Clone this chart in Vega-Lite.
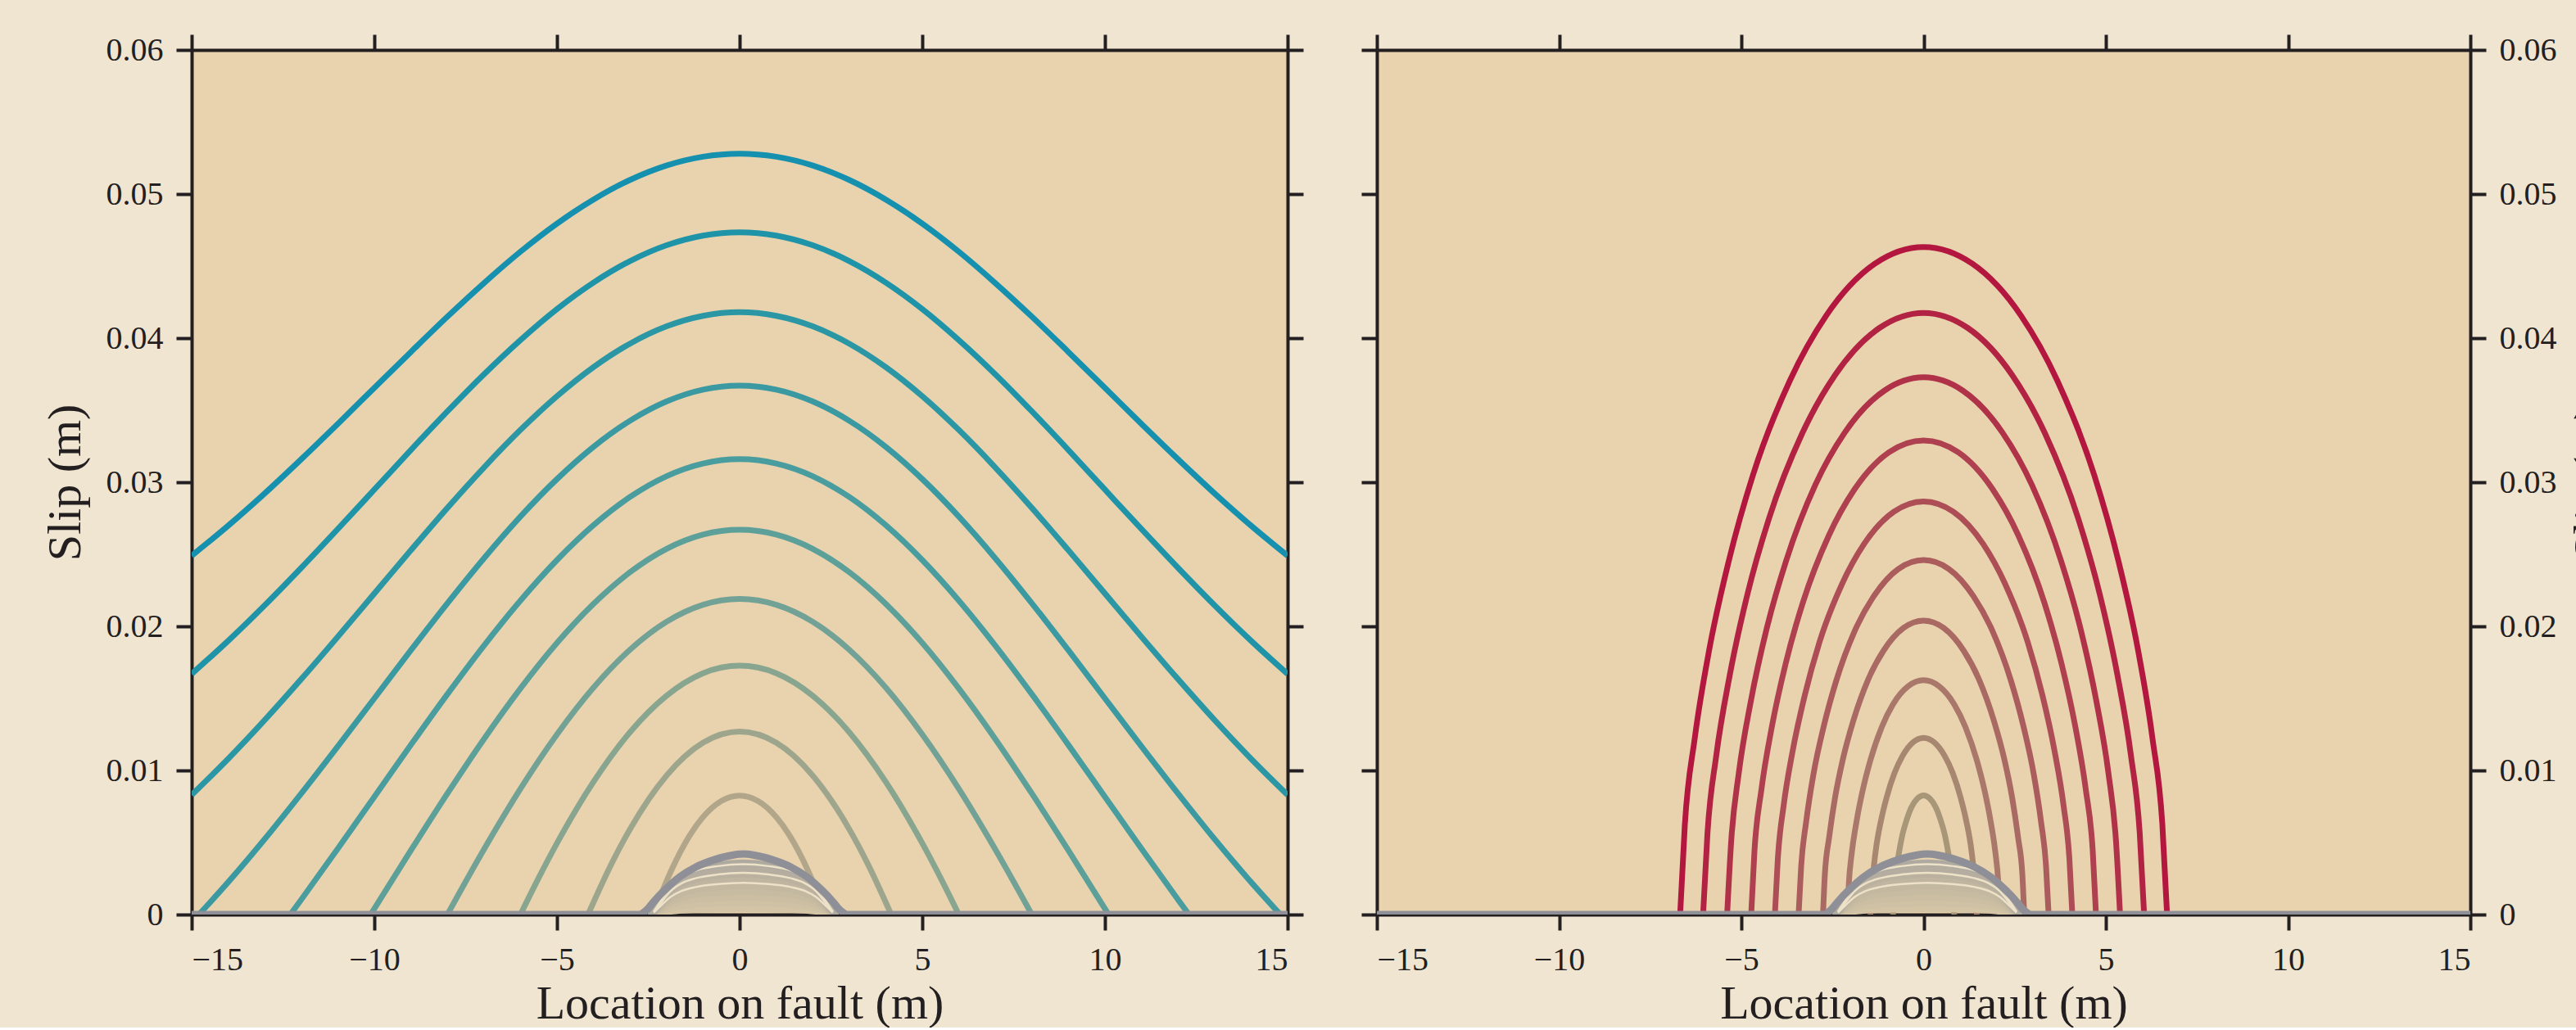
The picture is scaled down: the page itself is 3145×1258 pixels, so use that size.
{
 "$schema": "https://vega.github.io/schema/vega-lite/v6.json",
 "background": "#F0E5D0",
 "padding": {"left": 51, "top": 40, "right": 0, "bottom": 0},
 "spacing": 109,
 "bounds": "flush",
 "config": {
  "view": {"fill": "#E8D3AE", "stroke": null},
  "axis": {"domainColor": "#231F20", "domainWidth": 4, "tickColor": "#231F20", "tickWidth": 4, "tickSize": 19, "grid": false,
   "labelFont": "Liberation Serif", "labelFontSize": 40, "labelColor": "#231F20", "labelPadding": 16,
   "titleFont": "Liberation Serif", "titleFontSize": 58, "titleFontWeight": "normal", "titleColor": "#231F20", "zindex": 1}
 },
 "datasets": {
  "leftMain": [
   {"s":"c01","x":-15,"y":0.0249},{"s":"c01","x":-14,"y":0.02699},{"s":"c01","x":-13,"y":0.02923},{"s":"c01","x":-12,"y":0.0316},{"s":"c01","x":-11,"y":0.03405},{"s":"c01","x":-10,"y":0.03655},{"s":"c01","x":-9,"y":0.03904},{"s":"c01","x":-8,"y":0.04149},{"s":"c01","x":-7,"y":0.04382},{"s":"c01","x":-6,"y":0.046},{"s":"c01","x":-5,"y":0.04795},{"s":"c01","x":-4,"y":0.04962},{"s":"c01","x":-3,"y":0.05098},{"s":"c01","x":-2,"y":0.05198},{"s":"c01","x":-1,"y":0.05259},{"s":"c01","x":0,"y":0.0528},{"s":"c01","x":1,"y":0.05259},{"s":"c01","x":2,"y":0.05198},{"s":"c01","x":3,"y":0.05098},{"s":"c01","x":4,"y":0.04962},{"s":"c01","x":5,"y":0.04795},{"s":"c01","x":6,"y":0.046},{"s":"c01","x":7,"y":0.04382},{"s":"c01","x":8,"y":0.04149},{"s":"c01","x":9,"y":0.03904},{"s":"c01","x":10,"y":0.03655},{"s":"c01","x":11,"y":0.03405},{"s":"c01","x":12,"y":0.0316},{"s":"c01","x":13,"y":0.02923},{"s":"c01","x":14,"y":0.02699},{"s":"c01","x":15,"y":0.0249},
   {"s":"c02","x":-15,"y":0.0167},{"s":"c02","x":-14,"y":0.019},{"s":"c02","x":-13,"y":0.02146},{"s":"c02","x":-12,"y":0.02406},{"s":"c02","x":-11,"y":0.02675},{"s":"c02","x":-10,"y":0.02949},{"s":"c02","x":-9,"y":0.03224},{"s":"c02","x":-8,"y":0.03492},{"s":"c02","x":-7,"y":0.03749},{"s":"c02","x":-6,"y":0.03987},{"s":"c02","x":-5,"y":0.04202},{"s":"c02","x":-4,"y":0.04386},{"s":"c02","x":-3,"y":0.04535},{"s":"c02","x":-2,"y":0.04645},{"s":"c02","x":-1,"y":0.04712},{"s":"c02","x":0,"y":0.04735},{"s":"c02","x":1,"y":0.04712},{"s":"c02","x":2,"y":0.04645},{"s":"c02","x":3,"y":0.04535},{"s":"c02","x":4,"y":0.04386},{"s":"c02","x":5,"y":0.04202},{"s":"c02","x":6,"y":0.03987},{"s":"c02","x":7,"y":0.03749},{"s":"c02","x":8,"y":0.03492},{"s":"c02","x":9,"y":0.03224},{"s":"c02","x":10,"y":0.02949},{"s":"c02","x":11,"y":0.02675},{"s":"c02","x":12,"y":0.02406},{"s":"c02","x":13,"y":0.02146},{"s":"c02","x":14,"y":0.019},{"s":"c02","x":15,"y":0.0167},
   {"s":"c03","x":-15,"y":0.0083},{"s":"c03","x":-14,"y":0.01081},{"s":"c03","x":-13,"y":0.0135},{"s":"c03","x":-12,"y":0.01634},{"s":"c03","x":-11,"y":0.01928},{"s":"c03","x":-10,"y":0.02228},{"s":"c03","x":-9,"y":0.02528},{"s":"c03","x":-8,"y":0.02822},{"s":"c03","x":-7,"y":0.03102},{"s":"c03","x":-6,"y":0.03363},{"s":"c03","x":-5,"y":0.03597},{"s":"c03","x":-4,"y":0.03799},{"s":"c03","x":-3,"y":0.03962},{"s":"c03","x":-2,"y":0.04082},{"s":"c03","x":-1,"y":0.04155},{"s":"c03","x":0,"y":0.0418},{"s":"c03","x":1,"y":0.04155},{"s":"c03","x":2,"y":0.04082},{"s":"c03","x":3,"y":0.03962},{"s":"c03","x":4,"y":0.03799},{"s":"c03","x":5,"y":0.03597},{"s":"c03","x":6,"y":0.03363},{"s":"c03","x":7,"y":0.03102},{"s":"c03","x":8,"y":0.02822},{"s":"c03","x":9,"y":0.02528},{"s":"c03","x":10,"y":0.02228},{"s":"c03","x":11,"y":0.01928},{"s":"c03","x":12,"y":0.01634},{"s":"c03","x":13,"y":0.0135},{"s":"c03","x":14,"y":0.01081},{"s":"c03","x":15,"y":0.0083},
   {"s":"c04","x":-14.8,"y":0},{"s":"c04","x":-14,"y":0.00225},{"s":"c04","x":-13,"y":0.00524},{"s":"c04","x":-12,"y":0.0084},{"s":"c04","x":-11,"y":0.01167},{"s":"c04","x":-10,"y":0.015},{"s":"c04","x":-9,"y":0.01834},{"s":"c04","x":-8,"y":0.0216},{"s":"c04","x":-7,"y":0.02472},{"s":"c04","x":-6,"y":0.02762},{"s":"c04","x":-5,"y":0.03022},{"s":"c04","x":-4,"y":0.03246},{"s":"c04","x":-3,"y":0.03427},{"s":"c04","x":-2,"y":0.03561},{"s":"c04","x":-1,"y":0.03643},{"s":"c04","x":0,"y":0.0367},{"s":"c04","x":1,"y":0.03643},{"s":"c04","x":2,"y":0.03561},{"s":"c04","x":3,"y":0.03427},{"s":"c04","x":4,"y":0.03246},{"s":"c04","x":5,"y":0.03022},{"s":"c04","x":6,"y":0.02762},{"s":"c04","x":7,"y":0.02472},{"s":"c04","x":8,"y":0.0216},{"s":"c04","x":9,"y":0.01834},{"s":"c04","x":10,"y":0.015},{"s":"c04","x":11,"y":0.01167},{"s":"c04","x":12,"y":0.0084},{"s":"c04","x":13,"y":0.00524},{"s":"c04","x":14,"y":0.00225},{"s":"c04","x":14.8,"y":0},
   {"s":"c05","x":-12.3,"y":0},{"s":"c05","x":-12,"y":0.00104},{"s":"c05","x":-11,"y":0.00457},{"s":"c05","x":-10,"y":0.00817},{"s":"c05","x":-9,"y":0.01177},{"s":"c05","x":-8,"y":0.01529},{"s":"c05","x":-7,"y":0.01866},{"s":"c05","x":-6,"y":0.02179},{"s":"c05","x":-5,"y":0.0246},{"s":"c05","x":-4,"y":0.02702},{"s":"c05","x":-3,"y":0.02898},{"s":"c05","x":-2,"y":0.03042},{"s":"c05","x":-1,"y":0.0313},{"s":"c05","x":0,"y":0.0316},{"s":"c05","x":1,"y":0.0313},{"s":"c05","x":2,"y":0.03042},{"s":"c05","x":3,"y":0.02898},{"s":"c05","x":4,"y":0.02702},{"s":"c05","x":5,"y":0.0246},{"s":"c05","x":6,"y":0.02179},{"s":"c05","x":7,"y":0.01866},{"s":"c05","x":8,"y":0.01529},{"s":"c05","x":9,"y":0.01177},{"s":"c05","x":10,"y":0.00817},{"s":"c05","x":11,"y":0.00457},{"s":"c05","x":12,"y":0.00104},{"s":"c05","x":12.3,"y":0},
   {"s":"c06","x":-10.1,"y":0},{"s":"c06","x":-9,"y":0.00445},{"s":"c06","x":-8,"y":0.0084},{"s":"c06","x":-7,"y":0.01218},{"s":"c06","x":-6,"y":0.01569},{"s":"c06","x":-5,"y":0.01885},{"s":"c06","x":-4,"y":0.02156},{"s":"c06","x":-3,"y":0.02376},{"s":"c06","x":-2,"y":0.02538},{"s":"c06","x":-1,"y":0.02637},{"s":"c06","x":0,"y":0.0267},{"s":"c06","x":1,"y":0.02637},{"s":"c06","x":2,"y":0.02538},{"s":"c06","x":3,"y":0.02376},{"s":"c06","x":4,"y":0.02156},{"s":"c06","x":5,"y":0.01885},{"s":"c06","x":6,"y":0.01569},{"s":"c06","x":7,"y":0.01218},{"s":"c06","x":8,"y":0.0084},{"s":"c06","x":9,"y":0.00445},{"s":"c06","x":10.1,"y":0},
   {"s":"c07","x":-8,"y":0},{"s":"c07","x":-7,"y":0.00452},{"s":"c07","x":-6,"y":0.00873},{"s":"c07","x":-5,"y":0.0125},{"s":"c07","x":-4,"y":0.01575},{"s":"c07","x":-3,"y":0.01838},{"s":"c07","x":-2,"y":0.02032},{"s":"c07","x":-1,"y":0.0215},{"s":"c07","x":0,"y":0.0219},{"s":"c07","x":1,"y":0.0215},{"s":"c07","x":2,"y":0.02032},{"s":"c07","x":3,"y":0.01838},{"s":"c07","x":4,"y":0.01575},{"s":"c07","x":5,"y":0.0125},{"s":"c07","x":6,"y":0.00873},{"s":"c07","x":7,"y":0.00452},{"s":"c07","x":8,"y":0},
   {"s":"c08","x":-6,"y":0},{"s":"c08","x":-5.5,"y":0.00255},{"s":"c08","x":-5,"y":0.00495},{"s":"c08","x":-4,"y":0.00921},{"s":"c08","x":-3,"y":0.01266},{"s":"c08","x":-2,"y":0.01519},{"s":"c08","x":-1,"y":0.01675},{"s":"c08","x":0,"y":0.01727},{"s":"c08","x":1,"y":0.01675},{"s":"c08","x":2,"y":0.01519},{"s":"c08","x":3,"y":0.01266},{"s":"c08","x":4,"y":0.00921},{"s":"c08","x":5,"y":0.00495},{"s":"c08","x":5.5,"y":0.00255},{"s":"c08","x":6,"y":0},
   {"s":"c09","x":-4.15,"y":0},{"s":"c09","x":-3.5,"y":0.00356},{"s":"c09","x":-3,"y":0.00593},{"s":"c09","x":-2,"y":0.00965},{"s":"c09","x":-1,"y":0.01193},{"s":"c09","x":0,"y":0.0127},{"s":"c09","x":1,"y":0.01193},{"s":"c09","x":2,"y":0.00965},{"s":"c09","x":3,"y":0.00593},{"s":"c09","x":3.5,"y":0.00356},{"s":"c09","x":4.15,"y":0},
   {"s":"c10","x":-2.36,"y":0},{"s":"c10","x":-2,"y":0.00232},{"s":"c10","x":-1.5,"y":0.00492},{"s":"c10","x":-1,"y":0.00677},{"s":"c10","x":-0.5,"y":0.00788},{"s":"c10","x":0,"y":0.00825},{"s":"c10","x":0.5,"y":0.00788},{"s":"c10","x":1,"y":0.00677},{"s":"c10","x":1.5,"y":0.00492},{"s":"c10","x":2,"y":0.00232},{"s":"c10","x":2.36,"y":0}
  ],
  "rightMain": [
   {"s":"r01","x":-6.68,"y":0},{"s":"r01","x":-6.55,"y":0.00626},{"s":"r01","x":-6.28,"y":0.01221},{"s":"r01","x":-5.88,"y":0.0184},{"s":"r01","x":-5.34,"y":0.02459},{"s":"r01","x":-4.68,"y":0.03051},{"s":"r01","x":-3.67,"y":0.03705},{"s":"r01","x":-2.67,"y":0.04157},{"s":"r01","x":-1.34,"y":0.04516},{"s":"r01","x":0,"y":0.04632},{"s":"r01","x":1.34,"y":0.04516},{"s":"r01","x":2.67,"y":0.04157},{"s":"r01","x":3.67,"y":0.03705},{"s":"r01","x":4.68,"y":0.03051},{"s":"r01","x":5.34,"y":0.02459},{"s":"r01","x":5.88,"y":0.0184},{"s":"r01","x":6.28,"y":0.01221},{"s":"r01","x":6.55,"y":0.00626},{"s":"r01","x":6.68,"y":0},
   {"s":"r02","x":-6.05,"y":0},{"s":"r02","x":-5.93,"y":0.00564},{"s":"r02","x":-5.69,"y":0.01101},{"s":"r02","x":-5.32,"y":0.01659},{"s":"r02","x":-4.84,"y":0.02216},{"s":"r02","x":-4.24,"y":0.0275},{"s":"r02","x":-3.33,"y":0.03339},{"s":"r02","x":-2.42,"y":0.03747},{"s":"r02","x":-1.21,"y":0.04071},{"s":"r02","x":0,"y":0.04175},{"s":"r02","x":1.21,"y":0.04071},{"s":"r02","x":2.42,"y":0.03747},{"s":"r02","x":3.33,"y":0.03339},{"s":"r02","x":4.24,"y":0.0275},{"s":"r02","x":4.84,"y":0.02216},{"s":"r02","x":5.32,"y":0.01659},{"s":"r02","x":5.69,"y":0.01101},{"s":"r02","x":5.93,"y":0.00564},{"s":"r02","x":6.05,"y":0},
   {"s":"r03","x":-5.39,"y":0},{"s":"r03","x":-5.28,"y":0.00504},{"s":"r03","x":-5.07,"y":0.00983},{"s":"r03","x":-4.74,"y":0.01481},{"s":"r03","x":-4.31,"y":0.01979},{"s":"r03","x":-3.77,"y":0.02456},{"s":"r03","x":-2.97,"y":0.02982},{"s":"r03","x":-2.16,"y":0.03346},{"s":"r03","x":-1.08,"y":0.03635},{"s":"r03","x":0,"y":0.03728},{"s":"r03","x":1.08,"y":0.03635},{"s":"r03","x":2.16,"y":0.03346},{"s":"r03","x":2.97,"y":0.02982},{"s":"r03","x":3.77,"y":0.02456},{"s":"r03","x":4.31,"y":0.01979},{"s":"r03","x":4.74,"y":0.01481},{"s":"r03","x":5.07,"y":0.00983},{"s":"r03","x":5.28,"y":0.00504},{"s":"r03","x":5.39,"y":0},
   {"s":"r04","x":-4.73,"y":0},{"s":"r04","x":-4.64,"y":0.00444},{"s":"r04","x":-4.45,"y":0.00867},{"s":"r04","x":-4.16,"y":0.01307},{"s":"r04","x":-3.78,"y":0.01746},{"s":"r04","x":-3.31,"y":0.02167},{"s":"r04","x":-2.6,"y":0.02631},{"s":"r04","x":-1.89,"y":0.02953},{"s":"r04","x":-0.95,"y":0.03208},{"s":"r04","x":0,"y":0.0329},{"s":"r04","x":0.95,"y":0.03208},{"s":"r04","x":1.89,"y":0.02953},{"s":"r04","x":2.6,"y":0.02631},{"s":"r04","x":3.31,"y":0.02167},{"s":"r04","x":3.78,"y":0.01746},{"s":"r04","x":4.16,"y":0.01307},{"s":"r04","x":4.45,"y":0.00867},{"s":"r04","x":4.64,"y":0.00444},{"s":"r04","x":4.73,"y":0},
   {"s":"r05","x":-4.08,"y":0},{"s":"r05","x":-4.0,"y":0.00387},{"s":"r05","x":-3.84,"y":0.00756},{"s":"r05","x":-3.59,"y":0.01139},{"s":"r05","x":-3.26,"y":0.01522},{"s":"r05","x":-2.86,"y":0.01888},{"s":"r05","x":-2.24,"y":0.02293},{"s":"r05","x":-1.63,"y":0.02573},{"s":"r05","x":-0.82,"y":0.02795},{"s":"r05","x":0,"y":0.02867},{"s":"r05","x":0.82,"y":0.02795},{"s":"r05","x":1.63,"y":0.02573},{"s":"r05","x":2.24,"y":0.02293},{"s":"r05","x":2.86,"y":0.01888},{"s":"r05","x":3.26,"y":0.01522},{"s":"r05","x":3.59,"y":0.01139},{"s":"r05","x":3.84,"y":0.00756},{"s":"r05","x":4.0,"y":0.00387},{"s":"r05","x":4.08,"y":0},
   {"s":"r06","x":-3.43,"y":0},{"s":"r06","x":-3.36,"y":0.00332},{"s":"r06","x":-3.22,"y":0.00648},{"s":"r06","x":-3.02,"y":0.00977},{"s":"r06","x":-2.74,"y":0.01306},{"s":"r06","x":-2.4,"y":0.0162},{"s":"r06","x":-1.89,"y":0.01968},{"s":"r06","x":-1.37,"y":0.02208},{"s":"r06","x":-0.69,"y":0.02399},{"s":"r06","x":0,"y":0.0246},{"s":"r06","x":0.69,"y":0.02399},{"s":"r06","x":1.37,"y":0.02208},{"s":"r06","x":1.89,"y":0.01968},{"s":"r06","x":2.4,"y":0.0162},{"s":"r06","x":2.74,"y":0.01306},{"s":"r06","x":3.02,"y":0.00977},{"s":"r06","x":3.22,"y":0.00648},{"s":"r06","x":3.36,"y":0.00332},{"s":"r06","x":3.43,"y":0},
   {"s":"r07","x":-2.76,"y":0},{"s":"r07","x":-2.71,"y":0.00276},{"s":"r07","x":-2.59,"y":0.00538},{"s":"r07","x":-2.43,"y":0.0081},{"s":"r07","x":-2.21,"y":0.01083},{"s":"r07","x":-1.93,"y":0.01344},{"s":"r07","x":-1.52,"y":0.01632},{"s":"r07","x":-1.1,"y":0.01831},{"s":"r07","x":-0.55,"y":0.01989},{"s":"r07","x":0,"y":0.0204},{"s":"r07","x":0.55,"y":0.01989},{"s":"r07","x":1.1,"y":0.01831},{"s":"r07","x":1.52,"y":0.01632},{"s":"r07","x":1.93,"y":0.01344},{"s":"r07","x":2.21,"y":0.01083},{"s":"r07","x":2.43,"y":0.0081},{"s":"r07","x":2.59,"y":0.00538},{"s":"r07","x":2.71,"y":0.00276},{"s":"r07","x":2.76,"y":0},
   {"s":"r08","x":-2.09,"y":0},{"s":"r08","x":-2.05,"y":0.0022},{"s":"r08","x":-1.97,"y":0.00429},{"s":"r08","x":-1.84,"y":0.00646},{"s":"r08","x":-1.67,"y":0.00863},{"s":"r08","x":-1.46,"y":0.01071},{"s":"r08","x":-1.15,"y":0.013},{"s":"r08","x":-0.84,"y":0.01459},{"s":"r08","x":-0.42,"y":0.01585},{"s":"r08","x":0,"y":0.01626},{"s":"r08","x":0.42,"y":0.01585},{"s":"r08","x":0.84,"y":0.01459},{"s":"r08","x":1.15,"y":0.013},{"s":"r08","x":1.46,"y":0.01071},{"s":"r08","x":1.67,"y":0.00863},{"s":"r08","x":1.84,"y":0.00646},{"s":"r08","x":1.97,"y":0.00429},{"s":"r08","x":2.05,"y":0.0022},{"s":"r08","x":2.09,"y":0},
   {"s":"r09","x":-1.46,"y":0},{"s":"r09","x":-1.43,"y":0.00166},{"s":"r09","x":-1.37,"y":0.00323},{"s":"r09","x":-1.29,"y":0.00487},{"s":"r09","x":-1.17,"y":0.00651},{"s":"r09","x":-1.02,"y":0.00808},{"s":"r09","x":-0.8,"y":0.00981},{"s":"r09","x":-0.58,"y":0.011},{"s":"r09","x":-0.29,"y":0.01195},{"s":"r09","x":0,"y":0.01226},{"s":"r09","x":0.29,"y":0.01195},{"s":"r09","x":0.58,"y":0.011},{"s":"r09","x":0.8,"y":0.00981},{"s":"r09","x":1.02,"y":0.00808},{"s":"r09","x":1.17,"y":0.00651},{"s":"r09","x":1.29,"y":0.00487},{"s":"r09","x":1.37,"y":0.00323},{"s":"r09","x":1.43,"y":0.00166},{"s":"r09","x":1.46,"y":0},
   {"s":"r10","x":-0.84,"y":0},{"s":"r10","x":-0.82,"y":0.00112},{"s":"r10","x":-0.79,"y":0.00218},{"s":"r10","x":-0.74,"y":0.00328},{"s":"r10","x":-0.67,"y":0.00438},{"s":"r10","x":-0.59,"y":0.00544},{"s":"r10","x":-0.46,"y":0.00661},{"s":"r10","x":-0.34,"y":0.00741},{"s":"r10","x":-0.17,"y":0.00805},{"s":"r10","x":0,"y":0.00826},{"s":"r10","x":0.17,"y":0.00805},{"s":"r10","x":0.34,"y":0.00741},{"s":"r10","x":0.46,"y":0.00661},{"s":"r10","x":0.59,"y":0.00544},{"s":"r10","x":0.67,"y":0.00438},{"s":"r10","x":0.74,"y":0.00328},{"s":"r10","x":0.79,"y":0.00218},{"s":"r10","x":0.82,"y":0.00112},{"s":"r10","x":0.84,"y":0}
  ],
  "bumpDark": [
   {"s":"d1","x":-2.5,"y":0},{"s":"d1","x":-2.35,"y":0.00002},{"s":"d1","x":-2.15,"y":0.00011},{"s":"d1","x":-1.9,"y":0.00022},{"s":"d1","x":-1.6,"y":0.0003},{"s":"d1","x":-1.2,"y":0.00035},{"s":"d1","x":-0.6,"y":0.00038},{"s":"d1","x":0.1,"y":0.0004},{"s":"d1","x":0.8,"y":0.00038},{"s":"d1","x":1.4,"y":0.00035},{"s":"d1","x":1.8,"y":0.0003},{"s":"d1","x":2.1,"y":0.00022},{"s":"d1","x":2.35,"y":0.00011},{"s":"d1","x":2.55,"y":0.00002},{"s":"d1","x":2.7,"y":0},
   {"s":"d2","x":-2.5,"y":0},{"s":"d2","x":-2.35,"y":0.00005},{"s":"d2","x":-2.15,"y":0.00022},{"s":"d2","x":-1.9,"y":0.00044},{"s":"d2","x":-1.6,"y":0.00059},{"s":"d2","x":-1.2,"y":0.0007},{"s":"d2","x":-0.6,"y":0.00077},{"s":"d2","x":0.1,"y":0.0008},{"s":"d2","x":0.8,"y":0.00077},{"s":"d2","x":1.4,"y":0.0007},{"s":"d2","x":1.8,"y":0.00059},{"s":"d2","x":2.1,"y":0.00044},{"s":"d2","x":2.35,"y":0.00022},{"s":"d2","x":2.55,"y":0.00005},{"s":"d2","x":2.7,"y":0},
   {"s":"d3","x":-2.5,"y":0},{"s":"d3","x":-2.35,"y":0.00007},{"s":"d3","x":-2.15,"y":0.00034},{"s":"d3","x":-1.9,"y":0.00066},{"s":"d3","x":-1.6,"y":0.00089},{"s":"d3","x":-1.2,"y":0.00104},{"s":"d3","x":-0.6,"y":0.00115},{"s":"d3","x":0.1,"y":0.0012},{"s":"d3","x":0.8,"y":0.00115},{"s":"d3","x":1.4,"y":0.00104},{"s":"d3","x":1.8,"y":0.00089},{"s":"d3","x":2.1,"y":0.00066},{"s":"d3","x":2.35,"y":0.00034},{"s":"d3","x":2.55,"y":0.00007},{"s":"d3","x":2.7,"y":0},
   {"s":"d4","x":-2.5,"y":0},{"s":"d4","x":-2.35,"y":0.0001},{"s":"d4","x":-2.15,"y":0.00045},{"s":"d4","x":-1.9,"y":0.00088},{"s":"d4","x":-1.6,"y":0.00118},{"s":"d4","x":-1.2,"y":0.00139},{"s":"d4","x":-0.6,"y":0.00154},{"s":"d4","x":0.1,"y":0.0016},{"s":"d4","x":0.8,"y":0.00154},{"s":"d4","x":1.4,"y":0.00139},{"s":"d4","x":1.8,"y":0.00118},{"s":"d4","x":2.1,"y":0.00088},{"s":"d4","x":2.35,"y":0.00045},{"s":"d4","x":2.55,"y":0.0001},{"s":"d4","x":2.7,"y":0},
   {"s":"d5","x":-2.5,"y":0},{"s":"d5","x":-2.35,"y":0.00012},{"s":"d5","x":-2.15,"y":0.00056},{"s":"d5","x":-1.9,"y":0.0011},{"s":"d5","x":-1.6,"y":0.00148},{"s":"d5","x":-1.2,"y":0.00174},{"s":"d5","x":-0.6,"y":0.00192},{"s":"d5","x":0.1,"y":0.002},{"s":"d5","x":0.8,"y":0.00192},{"s":"d5","x":1.4,"y":0.00174},{"s":"d5","x":1.8,"y":0.00148},{"s":"d5","x":2.1,"y":0.0011},{"s":"d5","x":2.35,"y":0.00056},{"s":"d5","x":2.55,"y":0.00012},{"s":"d5","x":2.7,"y":0},
   {"s":"d6","x":-2.5,"y":0},{"s":"d6","x":-2.35,"y":0.00014},{"s":"d6","x":-2.15,"y":0.00067},{"s":"d6","x":-1.9,"y":0.00132},{"s":"d6","x":-1.6,"y":0.00178},{"s":"d6","x":-1.2,"y":0.00209},{"s":"d6","x":-0.6,"y":0.0023},{"s":"d6","x":0.1,"y":0.0024},{"s":"d6","x":0.8,"y":0.0023},{"s":"d6","x":1.4,"y":0.00209},{"s":"d6","x":1.8,"y":0.00178},{"s":"d6","x":2.1,"y":0.00132},{"s":"d6","x":2.35,"y":0.00067},{"s":"d6","x":2.55,"y":0.00014},{"s":"d6","x":2.7,"y":0},
   {"s":"d7","x":-2.5,"y":0},{"s":"d7","x":-2.35,"y":0.00017},{"s":"d7","x":-2.15,"y":0.00078},{"s":"d7","x":-1.9,"y":0.00154},{"s":"d7","x":-1.6,"y":0.00207},{"s":"d7","x":-1.2,"y":0.00244},{"s":"d7","x":-0.6,"y":0.00269},{"s":"d7","x":0.1,"y":0.0028},{"s":"d7","x":0.8,"y":0.00269},{"s":"d7","x":1.4,"y":0.00244},{"s":"d7","x":1.8,"y":0.00207},{"s":"d7","x":2.1,"y":0.00154},{"s":"d7","x":2.35,"y":0.00078},{"s":"d7","x":2.55,"y":0.00017},{"s":"d7","x":2.7,"y":0},
   {"s":"d8","x":-2.5,"y":0},{"s":"d8","x":-2.35,"y":0.00019},{"s":"d8","x":-2.15,"y":0.0009},{"s":"d8","x":-1.9,"y":0.00176},{"s":"d8","x":-1.6,"y":0.00237},{"s":"d8","x":-1.2,"y":0.00278},{"s":"d8","x":-0.6,"y":0.00307},{"s":"d8","x":0.1,"y":0.0032},{"s":"d8","x":0.8,"y":0.00307},{"s":"d8","x":1.4,"y":0.00278},{"s":"d8","x":1.8,"y":0.00237},{"s":"d8","x":2.1,"y":0.00176},{"s":"d8","x":2.35,"y":0.0009},{"s":"d8","x":2.55,"y":0.00019},{"s":"d8","x":2.7,"y":0},
   {"s":"d9","x":-2.5,"y":0},{"s":"d9","x":-2.35,"y":0.00022},{"s":"d9","x":-2.15,"y":0.00101},{"s":"d9","x":-1.9,"y":0.00198},{"s":"d9","x":-1.6,"y":0.00266},{"s":"d9","x":-1.2,"y":0.00313},{"s":"d9","x":-0.6,"y":0.00346},{"s":"d9","x":0.1,"y":0.0036},{"s":"d9","x":0.8,"y":0.00346},{"s":"d9","x":1.4,"y":0.00313},{"s":"d9","x":1.8,"y":0.00266},{"s":"d9","x":2.1,"y":0.00198},{"s":"d9","x":2.35,"y":0.00101},{"s":"d9","x":2.55,"y":0.00022},{"s":"d9","x":2.7,"y":0}
  ],
  "bumpLight": [
   {"s":"l1","x":-2.35,"y":0.00013},{"s":"l1","x":-2.15,"y":0.00062},{"s":"l1","x":-1.9,"y":0.00121},{"s":"l1","x":-1.6,"y":0.00163},{"s":"l1","x":-1.2,"y":0.00191},{"s":"l1","x":-0.6,"y":0.00211},{"s":"l1","x":0.1,"y":0.0022},{"s":"l1","x":0.8,"y":0.00211},{"s":"l1","x":1.4,"y":0.00191},{"s":"l1","x":1.8,"y":0.00163},{"s":"l1","x":2.1,"y":0.00121},{"s":"l1","x":2.35,"y":0.00062},{"s":"l1","x":2.55,"y":0.00013},
   {"s":"l2","x":-2.35,"y":0.00017},{"s":"l2","x":-2.15,"y":0.00081},{"s":"l2","x":-1.9,"y":0.0016},{"s":"l2","x":-1.6,"y":0.00215},{"s":"l2","x":-1.2,"y":0.00252},{"s":"l2","x":-0.6,"y":0.00278},{"s":"l2","x":0.1,"y":0.0029},{"s":"l2","x":0.8,"y":0.00278},{"s":"l2","x":1.4,"y":0.00252},{"s":"l2","x":1.8,"y":0.00215},{"s":"l2","x":2.1,"y":0.0016},{"s":"l2","x":2.35,"y":0.00081},{"s":"l2","x":2.55,"y":0.00017},
   {"s":"l3","x":-2.35,"y":0.00021},{"s":"l3","x":-2.15,"y":0.00098},{"s":"l3","x":-1.9,"y":0.00193},{"s":"l3","x":-1.6,"y":0.00259},{"s":"l3","x":-1.2,"y":0.00305},{"s":"l3","x":-0.6,"y":0.00336},{"s":"l3","x":0.1,"y":0.0035},{"s":"l3","x":0.8,"y":0.00336},{"s":"l3","x":1.4,"y":0.00305},{"s":"l3","x":1.8,"y":0.00259},{"s":"l3","x":2.1,"y":0.00193},{"s":"l3","x":2.35,"y":0.00098},{"s":"l3","x":2.55,"y":0.00021}
  ],
  "grayTop": [
   {"x":-15,"y":0},{"x":-2.75,"y":0},{"x":-2.55,"y":0.0003},{"x":-2.35,"y":0.0009},{"x":-2.05,"y":0.0017},{"x":-1.65,"y":0.0026},{"x":-1.2,"y":0.0033},{"x":-0.7,"y":0.0038},{"x":-0.2,"y":0.00412},{"x":0.1,"y":0.0042},{"x":0.4,"y":0.00412},{"x":0.9,"y":0.0038},{"x":1.4,"y":0.0033},{"x":1.85,"y":0.0026},{"x":2.25,"y":0.0017},{"x":2.55,"y":0.0009},{"x":2.75,"y":0.0003},{"x":2.95,"y":0},{"x":15,"y":0}
  ]
 },
 "hconcat": [
  {
   "width": 1338, "height": 1056,
   "layer": [
    {"data": {"name": "leftMain"},
     "mark": {"type": "line", "strokeWidth": 7, "interpolate": "monotone", "clip": true},
     "encoding": {
      "x": {"field": "x", "type": "quantitative", "scale": {"domain": [-15, 15], "nice": false, "zero": false},
            "axis": {"orient": "bottom", "values": [-15, -10, -5, 0, 5, 10, 15], "title": "Location on fault (m)", "titleY": 126, "titleBaseline": "alphabetic"}},
      "y": {"field": "y", "type": "quantitative", "scale": {"domain": [0, 0.06], "nice": false},
            "axis": {"orient": "left", "values": [0, 0.01, 0.02, 0.03, 0.04, 0.05, 0.06], "format": "~g", "title": "Slip (m)", "titleX": -137, "titleBaseline": "alphabetic"}},
      "color": {"field": "s", "type": "nominal", "legend": null,
                "scale": {"domain": ["c01","c02","c03","c04","c05","c06","c07","c08","c09","c10"],
                          "range": ["#1590AE","#1F94A9","#2B97A5","#3B9AA1","#4A9D9E","#5DA09A","#72A296","#88A590","#9DA68C","#B2A68A"]}}
     }},
    {"data": {"name": "bumpDark"},
     "mark": {"type": "line", "strokeWidth": 8, "interpolate": "monotone", "clip": true},
     "encoding": {
      "x": {"field": "x", "type": "quantitative", "axis": null},
      "y": {"field": "y", "type": "quantitative", "axis": null},
      "color": {"field": "s", "type": "nominal", "legend": null,
                "scale": {"domain": ["d1","d2","d3","d4","d5","d6","d7","d8","d9"],
                          "range": ["#D3C4A6","#CFC1A4","#CBBEA2","#C7BBA1","#C3B8A0","#BFB5A0","#BAB29F","#B5AEA0","#AFAAA0"]}}
     }},
    {"data": {"name": "bumpLight"},
     "mark": {"type": "line", "strokeWidth": 2.5, "interpolate": "monotone", "clip": true, "color": "#EDE1C8"},
     "encoding": {
      "x": {"field": "x", "type": "quantitative", "axis": null},
      "y": {"field": "y", "type": "quantitative", "axis": null},
      "detail": {"field": "s", "type": "nominal"}
     }},
    {"data": {"name": "grayTop"},
     "mark": {"type": "line", "strokeWidth": 9, "interpolate": "monotone", "clip": true, "color": "#8F9097"},
     "encoding": {
      "x": {"field": "x", "type": "quantitative",
            "axis": {"orient": "top", "values": [-15, -10, -5, 0, 5, 10, 15], "labels": false, "title": null}},
      "y": {"field": "y", "type": "quantitative",
            "axis": {"orient": "right", "values": [0, 0.01, 0.02, 0.03, 0.04, 0.05, 0.06], "labels": false, "title": null}}
     }}
   ],
   "resolve": {"scale": {"color": "independent"}, "axis": {"x": "independent", "y": "independent"}}
  },
  {
   "width": 1335, "height": 1056,
   "layer": [
    {"data": {"name": "rightMain"},
     "mark": {"type": "line", "strokeWidth": 7, "interpolate": "monotone", "clip": true},
     "encoding": {
      "x": {"field": "x", "type": "quantitative", "scale": {"domain": [-15, 15], "nice": false, "zero": false},
            "axis": {"orient": "bottom", "values": [-15, -10, -5, 0, 5, 10, 15], "title": "Location on fault (m)", "titleY": 126, "titleBaseline": "alphabetic"}},
      "y": {"field": "y", "type": "quantitative", "scale": {"domain": [0, 0.06], "nice": false},
            "axis": {"orient": "right", "values": [0, 0.01, 0.02, 0.03, 0.04, 0.05, 0.06], "format": "~g", "title": "Slip (m)", "titleAngle": 270, "titleX": 165, "titleBaseline": "alphabetic"}},
      "color": {"field": "s", "type": "nominal", "legend": null,
                "scale": {"domain": ["r01","r02","r03","r04","r05","r06","r07","r08","r09","r10"],
                          "range": ["#B3173F","#B22243","#B03249","#AE404F","#AD4E56","#AB5C5D","#AA6A64","#A9786B","#A88771","#A89678"]}}
     }},
    {"data": {"name": "bumpDark"},
     "mark": {"type": "line", "strokeWidth": 8, "interpolate": "monotone", "clip": true},
     "encoding": {
      "x": {"field": "x", "type": "quantitative", "axis": null},
      "y": {"field": "y", "type": "quantitative", "axis": null},
      "color": {"field": "s", "type": "nominal", "legend": null,
                "scale": {"domain": ["d1","d2","d3","d4","d5","d6","d7","d8","d9"],
                          "range": ["#D3C4A6","#CFC1A4","#CBBEA2","#C7BBA1","#C3B8A0","#BFB5A0","#BAB29F","#B5AEA0","#AFAAA0"]}}
     }},
    {"data": {"name": "bumpLight"},
     "mark": {"type": "line", "strokeWidth": 2.5, "interpolate": "monotone", "clip": true, "color": "#EDE1C8"},
     "encoding": {
      "x": {"field": "x", "type": "quantitative", "axis": null},
      "y": {"field": "y", "type": "quantitative", "axis": null},
      "detail": {"field": "s", "type": "nominal"}
     }},
    {"data": {"name": "grayTop"},
     "mark": {"type": "line", "strokeWidth": 9, "interpolate": "monotone", "clip": true, "color": "#8F9097"},
     "encoding": {
      "x": {"field": "x", "type": "quantitative",
            "axis": {"orient": "top", "values": [-15, -10, -5, 0, 5, 10, 15], "labels": false, "title": null}},
      "y": {"field": "y", "type": "quantitative",
            "axis": {"orient": "left", "values": [0, 0.01, 0.02, 0.03, 0.04, 0.05, 0.06], "labels": false, "title": null}}
     }}
   ],
   "resolve": {"scale": {"color": "independent"}, "axis": {"x": "independent", "y": "independent"}}
  }
 ]
}
